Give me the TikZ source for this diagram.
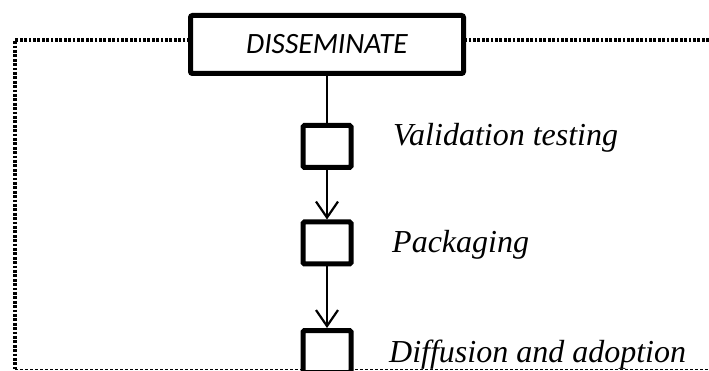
\documentclass[tikz,border=0pt]{standalone}
\usepackage{fontspec}
\setmainfont{Liberation Serif}
\newfontfamily\carlito{Carlito}
\usetikzlibrary{arrows.meta}

\begin{document}
\begin{tikzpicture}[x=1pt,y=-1pt,>={Straight Barb[length=16pt,width=22pt]},
        phase/.style={draw,line width=5pt,rounded corners=2pt,fill=white,minimum width=273pt,minimum height=58pt,inner sep=0pt,font=\carlito\itshape\fontsize{29.5}{34}\selectfont},
        stage/.style={draw,line width=5pt,rounded corners=1.5pt,fill=white,minimum width=48pt,minimum height=42pt,inner sep=0pt},
        lbl/.style={anchor=base west,inner sep=0pt,font=\itshape\fontsize{32}{38}\selectfont},
        boundary/.style={line width=3.5pt,dash pattern=on 2.8pt off 1.6pt},
        link/.style={line width=2.2pt}]
        \useasboundingbox (0,0) rectangle (709,371);

        % dotted frame round the phase
        \coordinate (tl) at (15,40);
        \coordinate (tr) at (709,40);
        \coordinate (bl) at (15,369);
        \coordinate (br) at (709,369);
        \draw[boundary] (tr) -- (tl) -- (bl);
        \draw[line width=1pt,dash pattern=on 3pt off 2pt] (bl) -- (br);

        \node[phase] (dis) at (327,44.5) {DISSEMINATE};
        \node[stage] (s1) at (327,146.5) {};
        \node[stage] (s2) at (327,243) {};
        \node[stage] (s3) at (327,351.5) {};

        \node[lbl] (l1) at (393,146) {Validation testing};
        \node[lbl] (l2) at (392,253) {Packaging};
        \node[lbl] (l3) at (389,362) {Diffusion and adoption};

        \path[link] (dis) edge (s1)
                    (s1) edge[->] (s2)
                    (s2) edge[->] (s3);
    \end{tikzpicture}
\end{document}
